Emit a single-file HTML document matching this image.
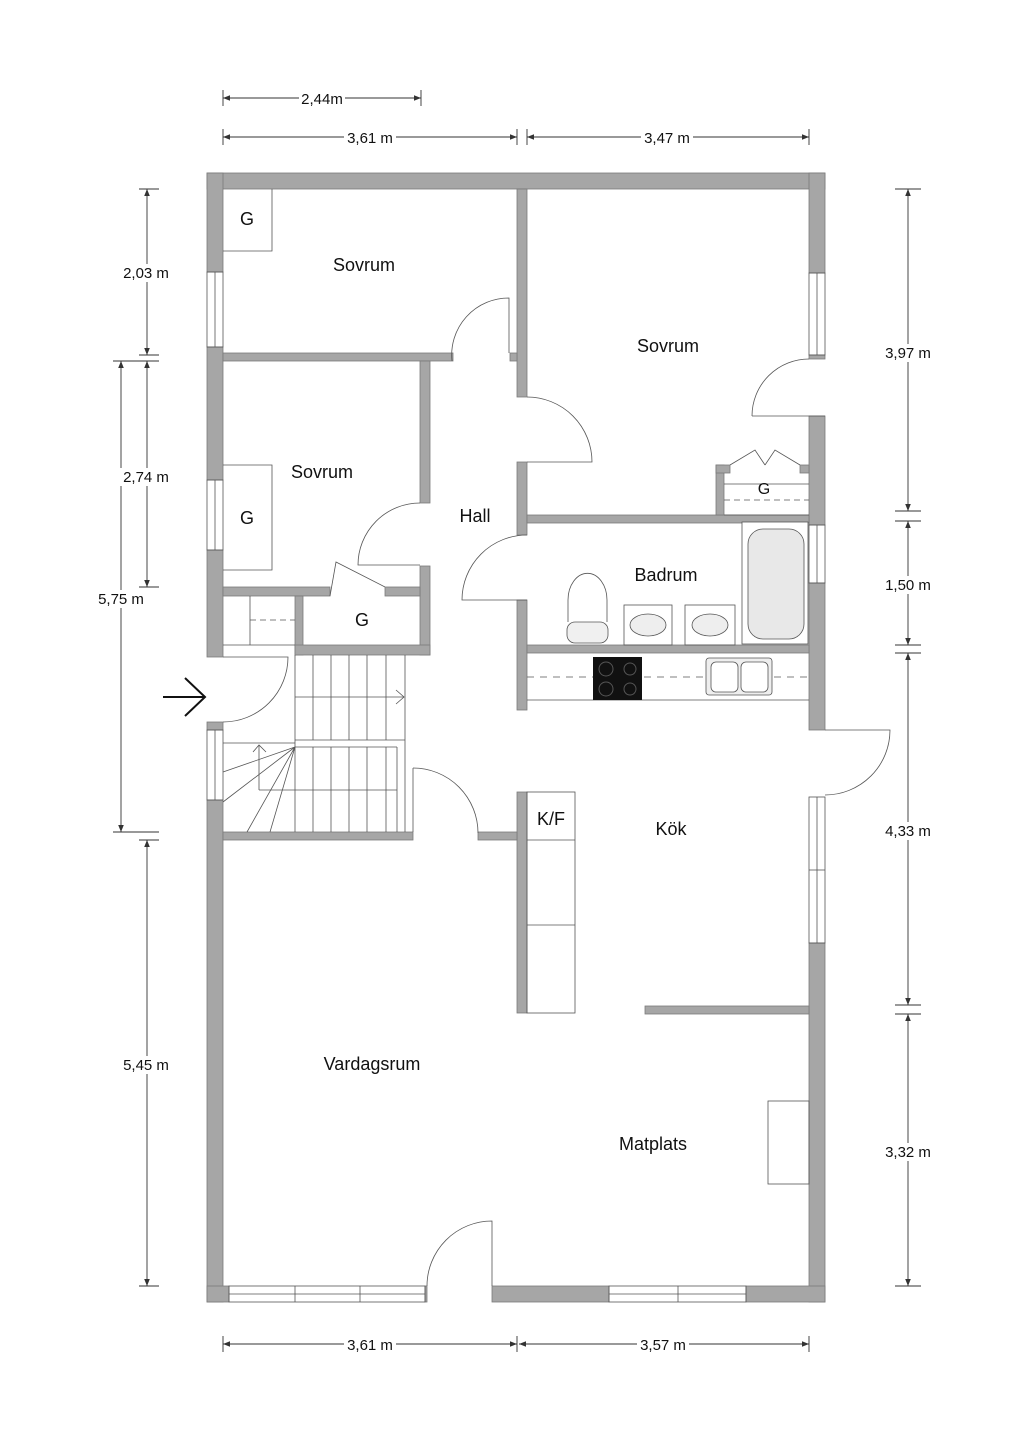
<!DOCTYPE html>
<html><head><meta charset="utf-8"><style>
html,body{margin:0;padding:0;background:#fff;}
svg{display:block;}
text{font-family:"Liberation Sans",sans-serif;fill:#111;}
</style></head><body>
<svg width="1024" height="1449" viewBox="0 0 1024 1449" xmlns="http://www.w3.org/2000/svg">
<defs>
<marker id="ar" viewBox="0 0 10 10" refX="10" refY="5" markerWidth="8" markerHeight="8" orient="auto-start-reverse"><path d="M0,1 L10,5 L0,9 z" fill="#333"/></marker>
</defs>
<g fill="#a6a6a6" stroke="#7a7a7a" stroke-width="0.8">
<rect x="207" y="173" width="618" height="16"/>
<rect x="207" y="173" width="16" height="99"/>
<rect x="207" y="347" width="16" height="133"/>
<rect x="207" y="550" width="16" height="107"/>
<rect x="207" y="722" width="16" height="8"/>
<rect x="207" y="800" width="16" height="502"/>
<rect x="809" y="173" width="16" height="100"/>
<rect x="809" y="355" width="16" height="4"/>
<rect x="809" y="416" width="16" height="109"/>
<rect x="809" y="583" width="16" height="147"/>
<rect x="809" y="943" width="16" height="359"/>
<rect x="207" y="1286" width="22" height="16"/>
<rect x="425" y="1286" width="2" height="16"/>
<rect x="492" y="1286" width="117" height="16"/>
<rect x="746" y="1286" width="79" height="16"/>
<rect x="517" y="189" width="10" height="208"/>
<rect x="517" y="462" width="10" height="73"/>
<rect x="517" y="600" width="10" height="110"/>
<rect x="517" y="792" width="10" height="221"/>
<rect x="223" y="353" width="230" height="8"/>
<rect x="510" y="353" width="7" height="8"/>
<rect x="420" y="361" width="10" height="142"/>
<rect x="420" y="566" width="10" height="89"/>
<rect x="223" y="587" width="107" height="9"/>
<rect x="385" y="587" width="35" height="9"/>
<rect x="295" y="596" width="8" height="59"/>
<rect x="295" y="645" width="135" height="10"/>
<rect x="223" y="832" width="190" height="8"/>
<rect x="478" y="832" width="39" height="8"/>
<rect x="527" y="515" width="282" height="8"/>
<rect x="716" y="465" width="8" height="50"/>
<rect x="716" y="465" width="14" height="8"/>
<rect x="800" y="465" width="9" height="8"/>
<rect x="527" y="645" width="282" height="8"/>
<rect x="645" y="1006" width="164" height="8"/>
</g>
<g fill="none" stroke="#555" stroke-width="0.8">
<rect x="207" y="272" width="16" height="75"/><line x1="215" y1="272" x2="215" y2="347"/>
<rect x="207" y="480" width="16" height="70"/><line x1="215" y1="480" x2="215" y2="550"/>
<rect x="207" y="730" width="16" height="70"/><line x1="215" y1="730" x2="215" y2="800"/>
<rect x="809" y="273" width="16" height="82"/><line x1="817" y1="273" x2="817" y2="355"/>
<rect x="809" y="525" width="16" height="58"/><line x1="817" y1="525" x2="817" y2="583"/>
<rect x="809" y="797" width="16" height="146"/><line x1="817" y1="797" x2="817" y2="943"/><line x1="809" y1="870" x2="825" y2="870"/>
<rect x="229" y="1286" width="196" height="16"/><line x1="229" y1="1294" x2="425" y2="1294"/><line x1="295" y1="1286" x2="295" y2="1302"/><line x1="360" y1="1286" x2="360" y2="1302"/>
<rect x="609" y="1286" width="137" height="16"/><line x1="609" y1="1294" x2="746" y2="1294"/><line x1="678" y1="1286" x2="678" y2="1302"/>
<path d="M452,361 A57,57 0 0 1 509,298 L509,353"/>
<path d="M527,397 A65,65 0 0 1 592,462 L527,462"/>
<path d="M752,416 A57,57 0 0 1 809,359 M752,416 L825,416"/>
<path d="M420,503 A62,62 0 0 0 358,565 L420,565"/>
<path d="M527,535 A65,65 0 0 0 462,600 L527,600"/>
<path d="M330,596 L336,562 L385,587"/>
<path d="M223,657 L288,657 A65,65 0 0 1 223,722"/>
<path d="M825,730 L890,730 A65,65 0 0 1 825,795"/>
<path d="M413,768 A65,65 0 0 1 478,833"/>
<line x1="413" y1="768" x2="413" y2="832"/>
<path d="M427,1286 A65,65 0 0 1 492,1221 L492,1286"/>
<path d="M223,251 L272,251 L272,189"/>
<path d="M223,465 L272,465 L272,570 L223,570"/>
<path d="M724,484 L809,484 M724,515 L809,515"/>
<path d="M730,465 L755,450 L765,465 M800,465 L775,450 L765,465"/>
<line x1="724" y1="500" x2="809" y2="500" stroke-dasharray="6,4"/>
<path d="M250,596 L250,645 M223,645 L295,645"/>
<line x1="250" y1="620" x2="295" y2="620" stroke-dasharray="6,4"/>
<path d="M295,655 L295,832 M405,655 L405,832 M295,740 L405,740"/>
<path d="M313,655 V740 M331,655 V740 M349,655 V740 M367,655 V740 M386,655 V740"/>
<path d="M313,747 V832 M331,747 V832 M349,747 V832 M367,747 V832 M386,747 V832 M397,747 V832"/>
<path d="M295,747 L397,747 M259,790 L397,790 M259,745 L259,790"/>
<path d="M295,697 L404,697 M396,690 L404,697 L396,704"/>
<path d="M253,752 L259,745 L266,752"/>
<path d="M223,743 L295,743 M295,747 L223,772 M295,747 L223,802 M295,747 L247,832 M295,747 L270,832"/>
<path d="M527,700 L809,700"/>
<line x1="527" y1="677" x2="809" y2="677" stroke-dasharray="7,6"/>
<rect x="527" y="792" width="48" height="221"/>
<path d="M527,840 L575,840 M527,925 L575,925"/>
<rect x="768" y="1101" width="41" height="83"/>
<rect x="706" y="658" width="66" height="37" rx="3" fill="#eee"/>
<rect x="711" y="662" width="27" height="30" rx="5" fill="#fff"/>
<rect x="741" y="662" width="27" height="30" rx="5" fill="#fff"/>
<rect x="742" y="522" width="66" height="122" fill="#fff"/>
<rect x="748" y="529" width="56" height="110" rx="15" fill="#e8e8e8"/>
<path d="M568,622 L568,600 A19,26 0 0 1 607,600 L607,622"/>
<rect x="567" y="622" width="41" height="21" rx="8" fill="#f0f0f0"/>
<rect x="624" y="605" width="48" height="40"/>
<ellipse cx="648" cy="625" rx="18" ry="11" fill="#eee"/>
<rect x="685" y="605" width="50" height="40"/>
<ellipse cx="710" cy="625" rx="18" ry="11" fill="#eee"/>
<g stroke="#333" stroke-width="0.9">
<line x1="223" y1="98" x2="421" y2="98" marker-start="url(#ar)" marker-end="url(#ar)"/>
<line x1="223" y1="137" x2="517" y2="137" marker-start="url(#ar)" marker-end="url(#ar)"/>
<line x1="527" y1="137" x2="809" y2="137" marker-start="url(#ar)" marker-end="url(#ar)"/>
<line x1="223" y1="1344" x2="517" y2="1344" marker-start="url(#ar)" marker-end="url(#ar)"/>
<line x1="519" y1="1344" x2="809" y2="1344" marker-start="url(#ar)" marker-end="url(#ar)"/>
<line x1="147" y1="189" x2="147" y2="355" marker-start="url(#ar)" marker-end="url(#ar)"/>
<line x1="147" y1="361" x2="147" y2="587" marker-start="url(#ar)" marker-end="url(#ar)"/>
<line x1="121" y1="361" x2="121" y2="832" marker-start="url(#ar)" marker-end="url(#ar)"/>
<line x1="147" y1="840" x2="147" y2="1286" marker-start="url(#ar)" marker-end="url(#ar)"/>
<line x1="908" y1="189" x2="908" y2="511" marker-start="url(#ar)" marker-end="url(#ar)"/>
<line x1="908" y1="521" x2="908" y2="645" marker-start="url(#ar)" marker-end="url(#ar)"/>
<line x1="908" y1="653" x2="908" y2="1005" marker-start="url(#ar)" marker-end="url(#ar)"/>
<line x1="908" y1="1014" x2="908" y2="1286" marker-start="url(#ar)" marker-end="url(#ar)"/>
<path d="M223,90 V106 M421,90 V106 M223,129 V145 M517,129 V145 M527,129 V145 M809,129 V145 M223,1336 V1352 M517,1336 V1352 M809,1336 V1352"/>
<path d="M139,355 H159 M113,361 H159 M139,587 H159 M113,832 H159 M139,840 H159 M139,1286 H159 M139,189 H159"/>
<path d="M895,511 H921 M895,521 H921 M895,645 H921 M895,653 H921 M895,1005 H921 M895,1014 H921 M895,189 H921 M895,1286 H921"/>
</g>
</g>
<rect x="593" y="657" width="49" height="43" fill="#111"/>
<circle cx="606" cy="669" r="7" fill="none" stroke="#555"/><circle cx="630" cy="669" r="6" fill="none" stroke="#555"/>
<circle cx="606" cy="689" r="7" fill="none" stroke="#555"/><circle cx="630" cy="689" r="6" fill="none" stroke="#555"/>
<path d="M163,697 L205,697 M185,678 L205,697 L185,716" fill="none" stroke="#111" stroke-width="2"/>
<g font-size="18" text-anchor="middle">
<text x="364" y="271">Sovrum</text>
<text x="668" y="352">Sovrum</text>
<text x="322" y="478">Sovrum</text>
<text x="475" y="522">Hall</text>
<text x="666" y="581">Badrum</text>
<text x="671" y="835">Kök</text>
<text x="551" y="825">K/F</text>
<text x="372" y="1070">Vardagsrum</text>
<text x="653" y="1150">Matplats</text>
<text x="247" y="225">G</text>
<text x="247" y="524">G</text>
<text x="362" y="626">G</text>
<text x="764" y="494" font-size="16">G</text>
</g>
<g fill="#fff">
<rect x="299" y="90" width="46" height="16"/>
<rect x="344" y="129" width="52" height="16"/>
<rect x="641" y="129" width="52" height="16"/>
<rect x="344" y="1336" width="52" height="16"/>
<rect x="637" y="1336" width="52" height="16"/>
<rect x="120" y="264" width="52" height="18"/>
<rect x="120" y="468" width="52" height="18"/>
<rect x="95" y="590" width="52" height="18"/>
<rect x="120" y="1056" width="52" height="18"/>
<rect x="882" y="344" width="52" height="18"/>
<rect x="882" y="576" width="52" height="18"/>
<rect x="882" y="822" width="52" height="18"/>
<rect x="882" y="1143" width="52" height="18"/>
</g>
<g font-size="15" text-anchor="middle" fill="#333">
<text x="322" y="104">2,44m</text>
<text x="370" y="143">3,61 m</text>
<text x="667" y="143">3,47 m</text>
<text x="370" y="1350">3,61 m</text>
<text x="663" y="1350">3,57 m</text>
<text x="146" y="278">2,03 m</text>
<text x="146" y="482">2,74 m</text>
<text x="121" y="604">5,75 m</text>
<text x="146" y="1070">5,45 m</text>
<text x="908" y="358">3,97 m</text>
<text x="908" y="590">1,50 m</text>
<text x="908" y="836">4,33 m</text>
<text x="908" y="1157">3,32 m</text>
</g>
</svg>
</body></html>
